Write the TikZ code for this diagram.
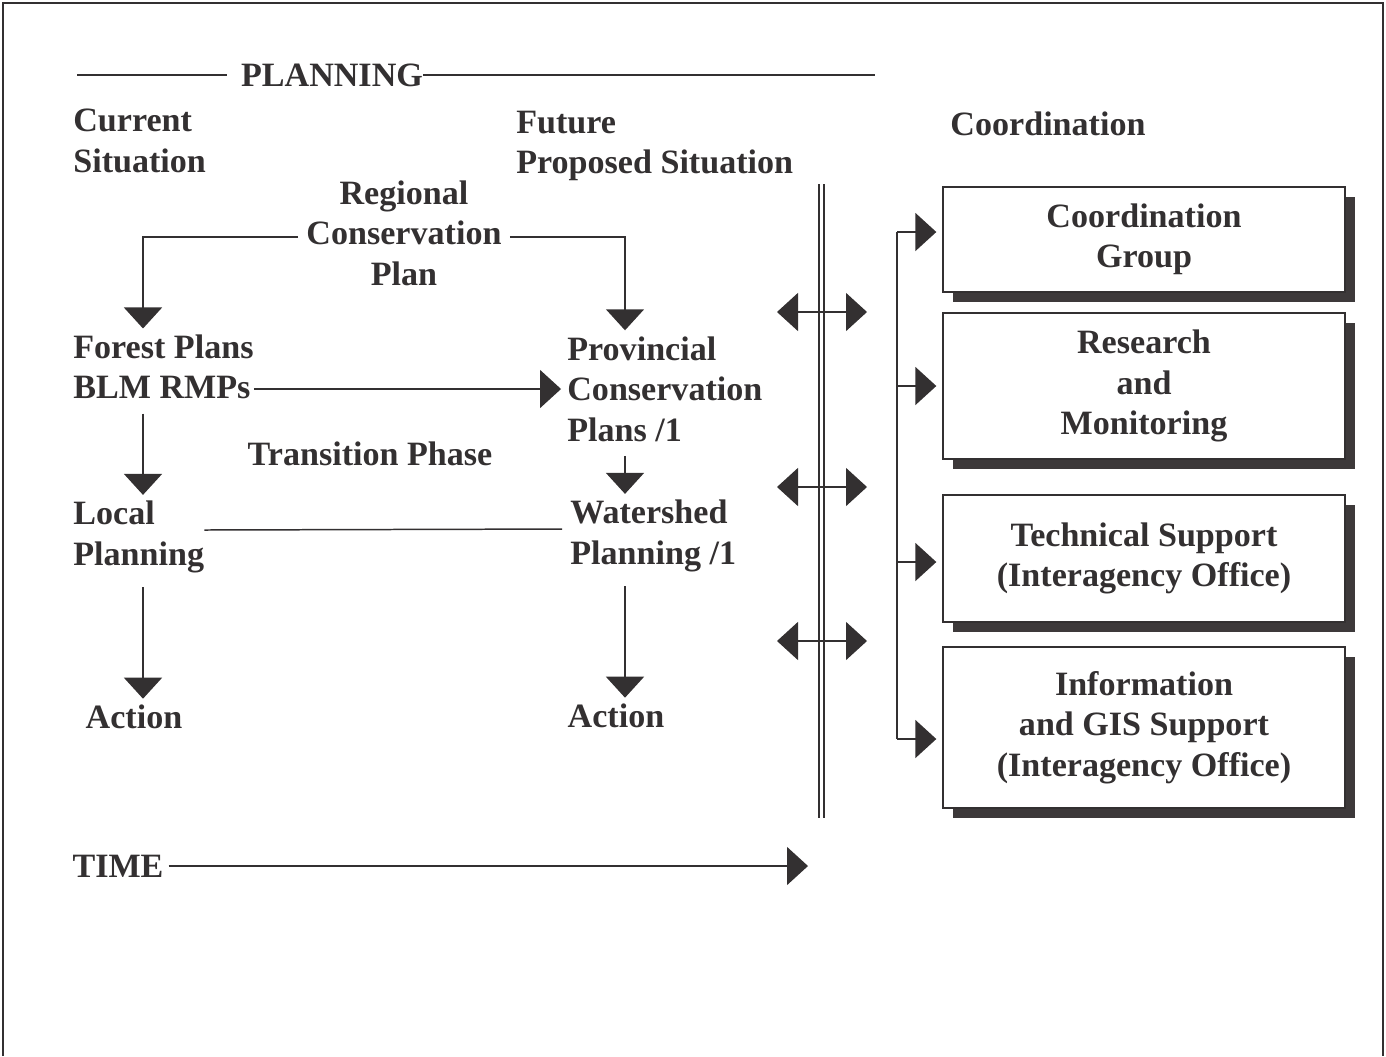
\documentclass[tikz,border=0pt]{standalone}
\usepackage{fontspec}
\setmainfont{Liberation Serif}
\usetikzlibrary{arrows.meta,positioning,calc,shadows}
\definecolor{ink}{HTML}{333031}
\definecolor{shd}{HTML}{3D393A}

\begin{document}
\begin{tikzpicture}[
  x=0.02cm, y=-0.02cm,
  font=\fontsize{19.4}{23}\selectfont\bfseries,
  every node/.style={text=ink},
  lbl/.style={align=left, inner sep=0pt, anchor=west},
  mid/.style={align=center, inner sep=0pt},
  ln/.style={draw=ink, line width=0.85pt},
  arr/.style={ln, -{Triangle[length=0.42cm, width=0.76cm]}, shorten >=3.4pt},
  dwn/.style={arr, shorten <=8pt},
  dbl/.style={ln, {Triangle[length=0.42cm, width=0.76cm]}-{Triangle[length=0.42cm, width=0.76cm]}},
  panel/.style={draw=ink, line width=0.85pt, fill=white, align=center,
                minimum width=8.04cm, inner sep=0pt,
                drop shadow={shadow xshift=0.2cm, shadow yshift=-0.2cm, fill=shd, opacity=1}}
]
\useasboundingbox (0,0) rectangle (1386,1056);
\draw[ln, line width=1.5pt] (3,1056) -- (3,3) -- (1383,3) -- (1383,1056);

% planning side
\node[inner sep=0pt] (pl) at (332,75) {PLANNING};
\node[lbl] (cur) at (73,141) {Current\\Situation};
\node[lbl] (fut) at (516,146) {Future\\Proposed Situation};
\node[mid] (rcp) at (404,233) {Regional\\Conservation\\Plan};
\node[lbl] (fp) at (73,367) {Forest Plans\\BLM RMPs};
\node[lbl] (pcp) at (567,389) {Provincial\\Conservation\\Plans /1};
\node[mid] (tp) at (370,454) {Transition Phase};
\node[lbl] (lp) at (73,537) {Local\\Planning};
\node[lbl] (wp) at (570,536) {Watershed\\Planning /1};
\node[mid] (act1) at (134,717) {Action};
\node[mid] (act2) at (616,716) {Action};
\node[mid] (tm) at (118,866) {TIME};

\coordinate (pla) at (77,75);
\coordinate (plb) at (875,75);
\coordinate (xl) at (143,0);
\coordinate (xr) at (625,0);
\coordinate (tend) at (808,866);

\draw[ln] (pla) -- ([xshift=-8pt]pl.west);
\draw[ln] (pl.east) -- (plb);
\draw[arr] ($(rcp.west)+(-8,4)$) -| (xl |- fp.north);
\draw[arr] ($(rcp.east)+(8,4)$) -| (xr |- pcp.north);
\draw[arr] (fp.east |- pcp.west) -- (pcp.west);
\draw[dwn] (xl |- fp.south) -- (xl |- lp.north);
\draw[dwn] (xl |- lp.south) -- (xl |- act1.north);
\draw[dwn] (xr |- pcp.south) -- (xr |- wp.north);
\draw[dwn] (xr |- wp.south) -- (xr |- act2.north);
\draw[ln, shorten >=4.5pt] ($(lp.east)+(0,-7)$) -- ($(wp.west)+(0,-7)$);
\draw[arr, shorten >=0pt, shorten <=2.8pt] (tm.east) -- (tend);

% coordination side
\node[mid] (crd) at (1048,124) {Coordination};
\coordinate (divt) at (821.5,184);
\coordinate (divb) at (821.5,818);
\draw[ln, line width=0.75pt, double=white, double distance=2.1pt] (divt) -- (divb);
\foreach \y [count=\i] in {312,487,641} {
  \coordinate (dl\i) at (777,\y);
  \coordinate (dr\i) at (867,\y);
  \draw[dbl] (dl\i) -- (dr\i);
}

\node[panel, minimum height=2.1cm] (b1) at (1144,239.5) {Coordination\\Group};
\node[panel, minimum height=2.92cm] (b2) at (1144,386) {Research\\and\\Monitoring};
\node[panel, minimum height=2.54cm] (b3) at (1144,558.5) {Technical Support\\(Interagency Office)};
\node[panel, minimum height=3.22cm] (b4) at (1144,727.5) {Information\\and GIS Support\\(Interagency Office)};

\coordinate (bus) at (897,0);
\draw[ln] ($(b1.west -| bus)+(0,-7.5)$) -- ($(b4.west -| bus)+(0,11.5)$);
\foreach \b/\dy in {b1/-7.5, b2/0, b3/3.5, b4/11.5}
  \draw[arr] ($(\b.west -| bus)+(0,\dy)$) -- ($(\b.west)+(0,\dy)$);
\end{tikzpicture}
\end{document}
